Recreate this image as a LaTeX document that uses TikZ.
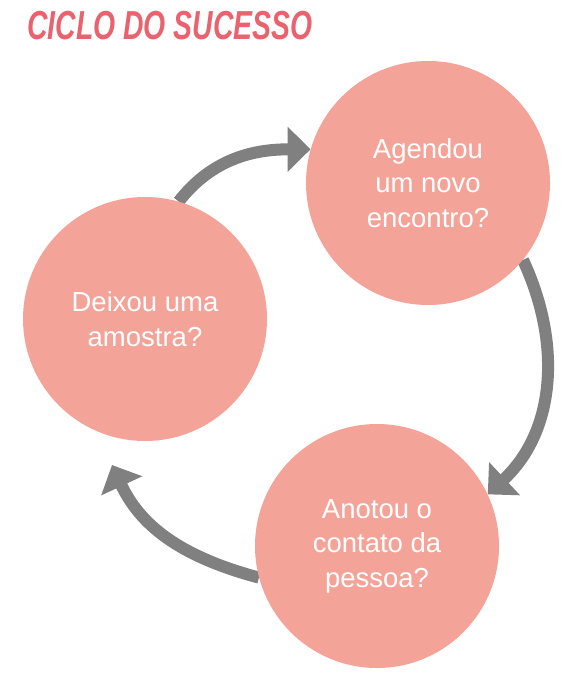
\documentclass[tikz,border=0pt]{standalone}
\usepackage{fontspec}
\setmainfont{Liberation Sans}
\usetikzlibrary{arrows.meta,backgrounds}
\definecolor{salmon}{HTML}{F4A398}
\definecolor{titlered}{HTML}{E9636F}
\definecolor{arrgray}{HTML}{808080}
\begin{document}
\begin{tikzpicture}[x=1pt,y=1pt,
  bubble/.style={circle,fill=salmon,minimum size=244pt,inner sep=0pt,text=white,align=center,
    font=\fontsize{27.5}{34.5}\selectfont},
  cyclearrow/.style={draw=arrgray,line width=12pt,-{Triangle[length=23pt,width=44pt]}}]
\useasboundingbox (0,0) rectangle (566,-679);
\node[anchor=west,inner sep=0pt,text=titlered] (title) at (27,-26)
  {\scalebox{0.7}[1]{\fontsize{40.5}{40.5}\selectfont\bfseries\itshape CICLO DO SUCESSO}};
\node[bubble] (tr) at (428,-183) {Agendou\\um novo\\encontro?};
\node[bubble] (lt) at (145,-319) {Deixou uma\\amostra?};
\node[bubble] (bt) at (377,-546) {Anotou o\\contato da\\pessoa?};
\coordinate (a3end) at (112,-465);
\begin{scope}[on background layer]
\draw[cyclearrow] (lt.74) to[out=52,in=180] (tr.164);
\draw[cyclearrow] (tr.-39) to[out=-65,in=43] (bt.25);
\draw[cyclearrow] (bt.195) to[out=165,in=-65] (a3end);
\end{scope}
\end{tikzpicture}
\end{document}
